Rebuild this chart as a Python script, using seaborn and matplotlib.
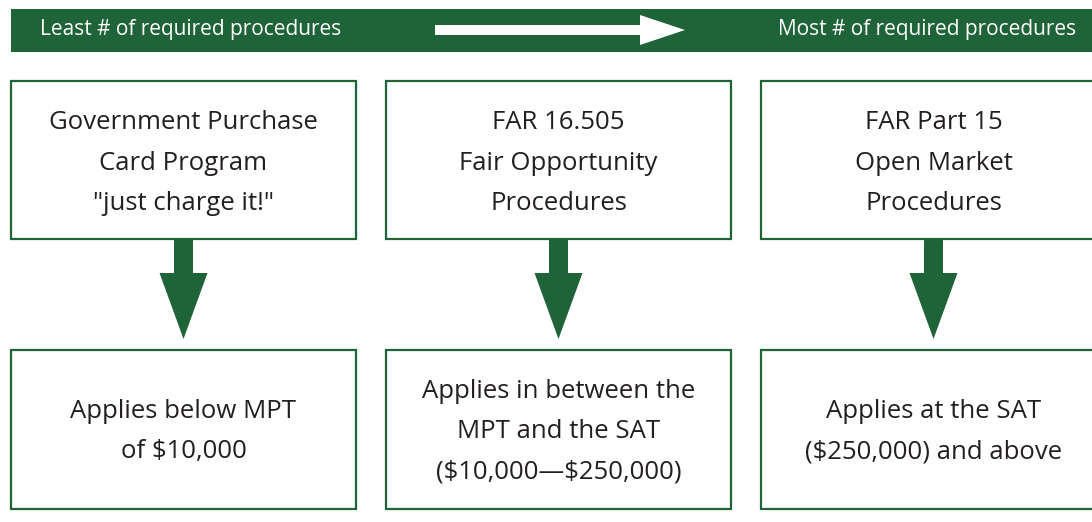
import matplotlib
matplotlib.use('Agg')
import matplotlib.pyplot as plt
from matplotlib.patches import Rectangle, FancyArrow
import seaborn as sns

# Texts of the diagram
banner_left = "Least # of required procedures"
banner_right = "Most # of required procedures"
top_labels = [
    "Government Purchase\nCard Program\n\"just charge it!\"",
    "FAR 16.505\nFair Opportunity\nProcedures",
    "FAR Part 15\nOpen Market\nProcedures",
]
bottom_labels = [
    "Applies below MPT\nof $10,000",
    "Applies in between the\nMPT and the SAT\n($10,000\u2014$250,000)",
    "Applies at the SAT\n($250,000) and above",
]

# Colours
green = '#1f6339'
text_col = '#231f20'

sns.set_theme(style='white')
plt.rcParams['font.family'] = ['Open Sans', 'DejaVu Sans']

fig = plt.figure(figsize=(10.92, 5.22), dpi=100)
ax = fig.add_axes([0, 0, 1, 1])
ax.set_xlim(0, 1092)
ax.set_ylim(522, 0)
ax.axis('off')

# Banner
ax.add_patch(Rectangle((11, 9), 1081, 43, facecolor=green, edgecolor='none'))
ax.text(40, 30, banner_left, color='white', fontsize=15, ha='left', va='center',
        parse_math=False)
ax.text(1076, 30, banner_right, color='white', fontsize=15, ha='right', va='center',
        parse_math=False)
ax.add_patch(FancyArrow(435, 30, 250, 0, width=10, head_width=30, head_length=45,
                        length_includes_head=True, color='white', linewidth=0))

# Boxes and arrows
box_left = [11, 386, 761]
box_w = 345
top_y, top_h = 81, 158
bot_y, bot_h = 350, 159
for i in range(3):
    x0 = box_left[i]
    cx = x0 + box_w / 2
    ax.add_patch(Rectangle((x0, top_y), box_w, top_h, facecolor='white',
                           edgecolor=green, linewidth=1.6))
    ax.add_patch(Rectangle((x0, bot_y), box_w, bot_h, facecolor='white',
                           edgecolor=green, linewidth=1.6))
    ax.text(cx, top_y + top_h / 2 + 3, top_labels[i], ha='center', va='center',
            fontsize=18.5, color=text_col, linespacing=1.8, parse_math=False)
    ax.text(cx, bot_y + bot_h / 2 + 2, bottom_labels[i], ha='center', va='center',
            fontsize=18.5, color=text_col, linespacing=1.8, parse_math=False)
    ax.add_patch(FancyArrow(cx, top_y + top_h, 0, 100, width=19, head_width=48,
                            head_length=66, length_includes_head=True,
                            color=green, linewidth=0))

fig.savefig('out.png', dpi=100)
